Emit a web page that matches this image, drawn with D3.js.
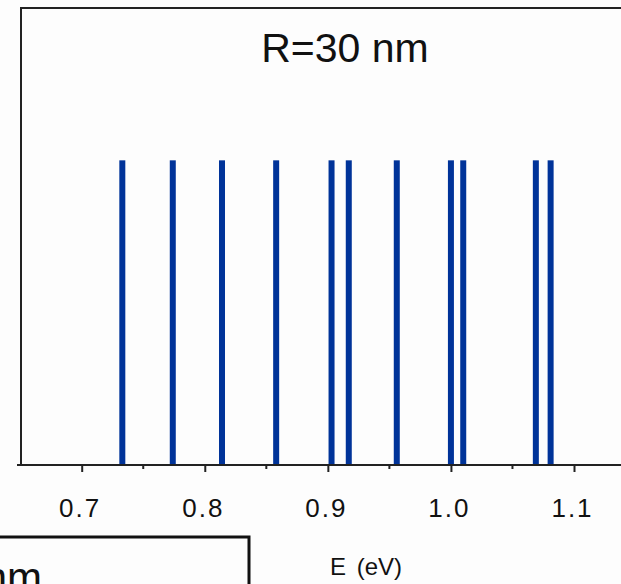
<!DOCTYPE html>
<html>
<head>
<meta charset="utf-8">
<script src="https://cdn.jsdelivr.net/npm/d3@7"></script>
<style>
  html, body { margin: 0; padding: 0; background: #fdfdfd; }
  svg { display: block; }
  text { font-family: "Liberation Sans", Arial, sans-serif; fill: #111; }
</style>
</head>
<body>
<svg id="chart" width="621" height="584"></svg>
<script>
// Transition energies (eV) for the R = 30 nm dot, all drawn at unit height
const energies = [0.733, 0.774, 0.814, 0.858, 0.903, 0.917, 0.956, 1.000, 1.010, 1.069, 1.081];
const heights  = [1, 1, 1, 1, 1, 1, 1, 1, 1, 1, 1];
const majorTicks = [0.7, 0.8, 0.9, 1.0, 1.1];
const minorTicks = [0.75, 0.85, 0.95, 1.05];
const tickLabels = ["0.7", "0.8", "0.9", "1.0", "1.1"];
const panelTitle = "R=30 nm";
const xTitle = "E (eV)";

const svg = d3.select("#chart");

const plotLeft = 21, plotTop = 8, plotBottom = 465, plotRight = 700;

const x = d3.scaleLinear().domain([0.7, 1.1]).range([81.7, 574]);
const y = d3.scaleLinear().domain([0, 1.5]).range([plotBottom, plotTop]);

// frame: top and left edges
svg.append("path")
  .attr("d", `M${plotRight},${plotTop}H${plotLeft}V${plotBottom}`)
  .attr("fill", "none").attr("stroke", "#222").attr("stroke-width", 2);

// spectral lines
svg.append("g").selectAll("rect")
  .data(energies.map((e, i) => ({ e, h: heights[i] })))
  .join("rect")
  .attr("x", d => x(d.e) - 3)
  .attr("width", 6)
  .attr("y", d => y(d.h))
  .attr("height", d => y(0) - y(d.h))
  .attr("fill", "#003399");

// bottom axis with major ticks
const axis = d3.axisBottom(x)
  .tickValues(majorTicks)
  .tickSize(7)
  .tickPadding(28)
  .tickFormat((d, i) => tickLabels[i]);

const gx = svg.append("g").attr("transform", `translate(0,${plotBottom})`).call(axis);
gx.select(".domain").attr("d", `M${plotLeft - 4},0H${plotRight}`).attr("stroke", "#222").attr("stroke-width", 2);
gx.selectAll(".tick line").attr("stroke", "#222").attr("stroke-width", 2);
gx.selectAll(".tick text")
  .attr("font-size", 26).attr("dy", "0")
  .attr("y", 52).attr("dx", -2)
  .attr("letter-spacing", "2px")
  .attr("font-family", "'Liberation Sans', Arial, sans-serif").attr("fill", "#111");

// minor ticks
svg.append("g").selectAll("line")
  .data(minorTicks)
  .join("line")
  .attr("x1", d => x(d)).attr("x2", d => x(d))
  .attr("y1", plotBottom).attr("y2", plotBottom + 4)
  .attr("stroke", "#222").attr("stroke-width", 2);

// panel title
svg.append("text")
  .attr("x", 345).attr("y", 62)
  .attr("text-anchor", "middle")
  .attr("font-size", 41)
  .text(panelTitle);

// axis title
svg.append("text")
  .attr("x", 330).attr("y", 575)
  .attr("font-size", 24)
  .attr("word-spacing", 4)
  .text(xTitle);

// neighbouring panel below
svg.append("path")
  .attr("d", `M0,537H249V590`)
  .attr("fill", "none").attr("stroke", "#111").attr("stroke-width", 3);
svg.append("text")
  .attr("x", 42).attr("y", 592)
  .attr("text-anchor", "end")
  .attr("font-size", 42)
  .text("nm");
</script>
</body>
</html>
